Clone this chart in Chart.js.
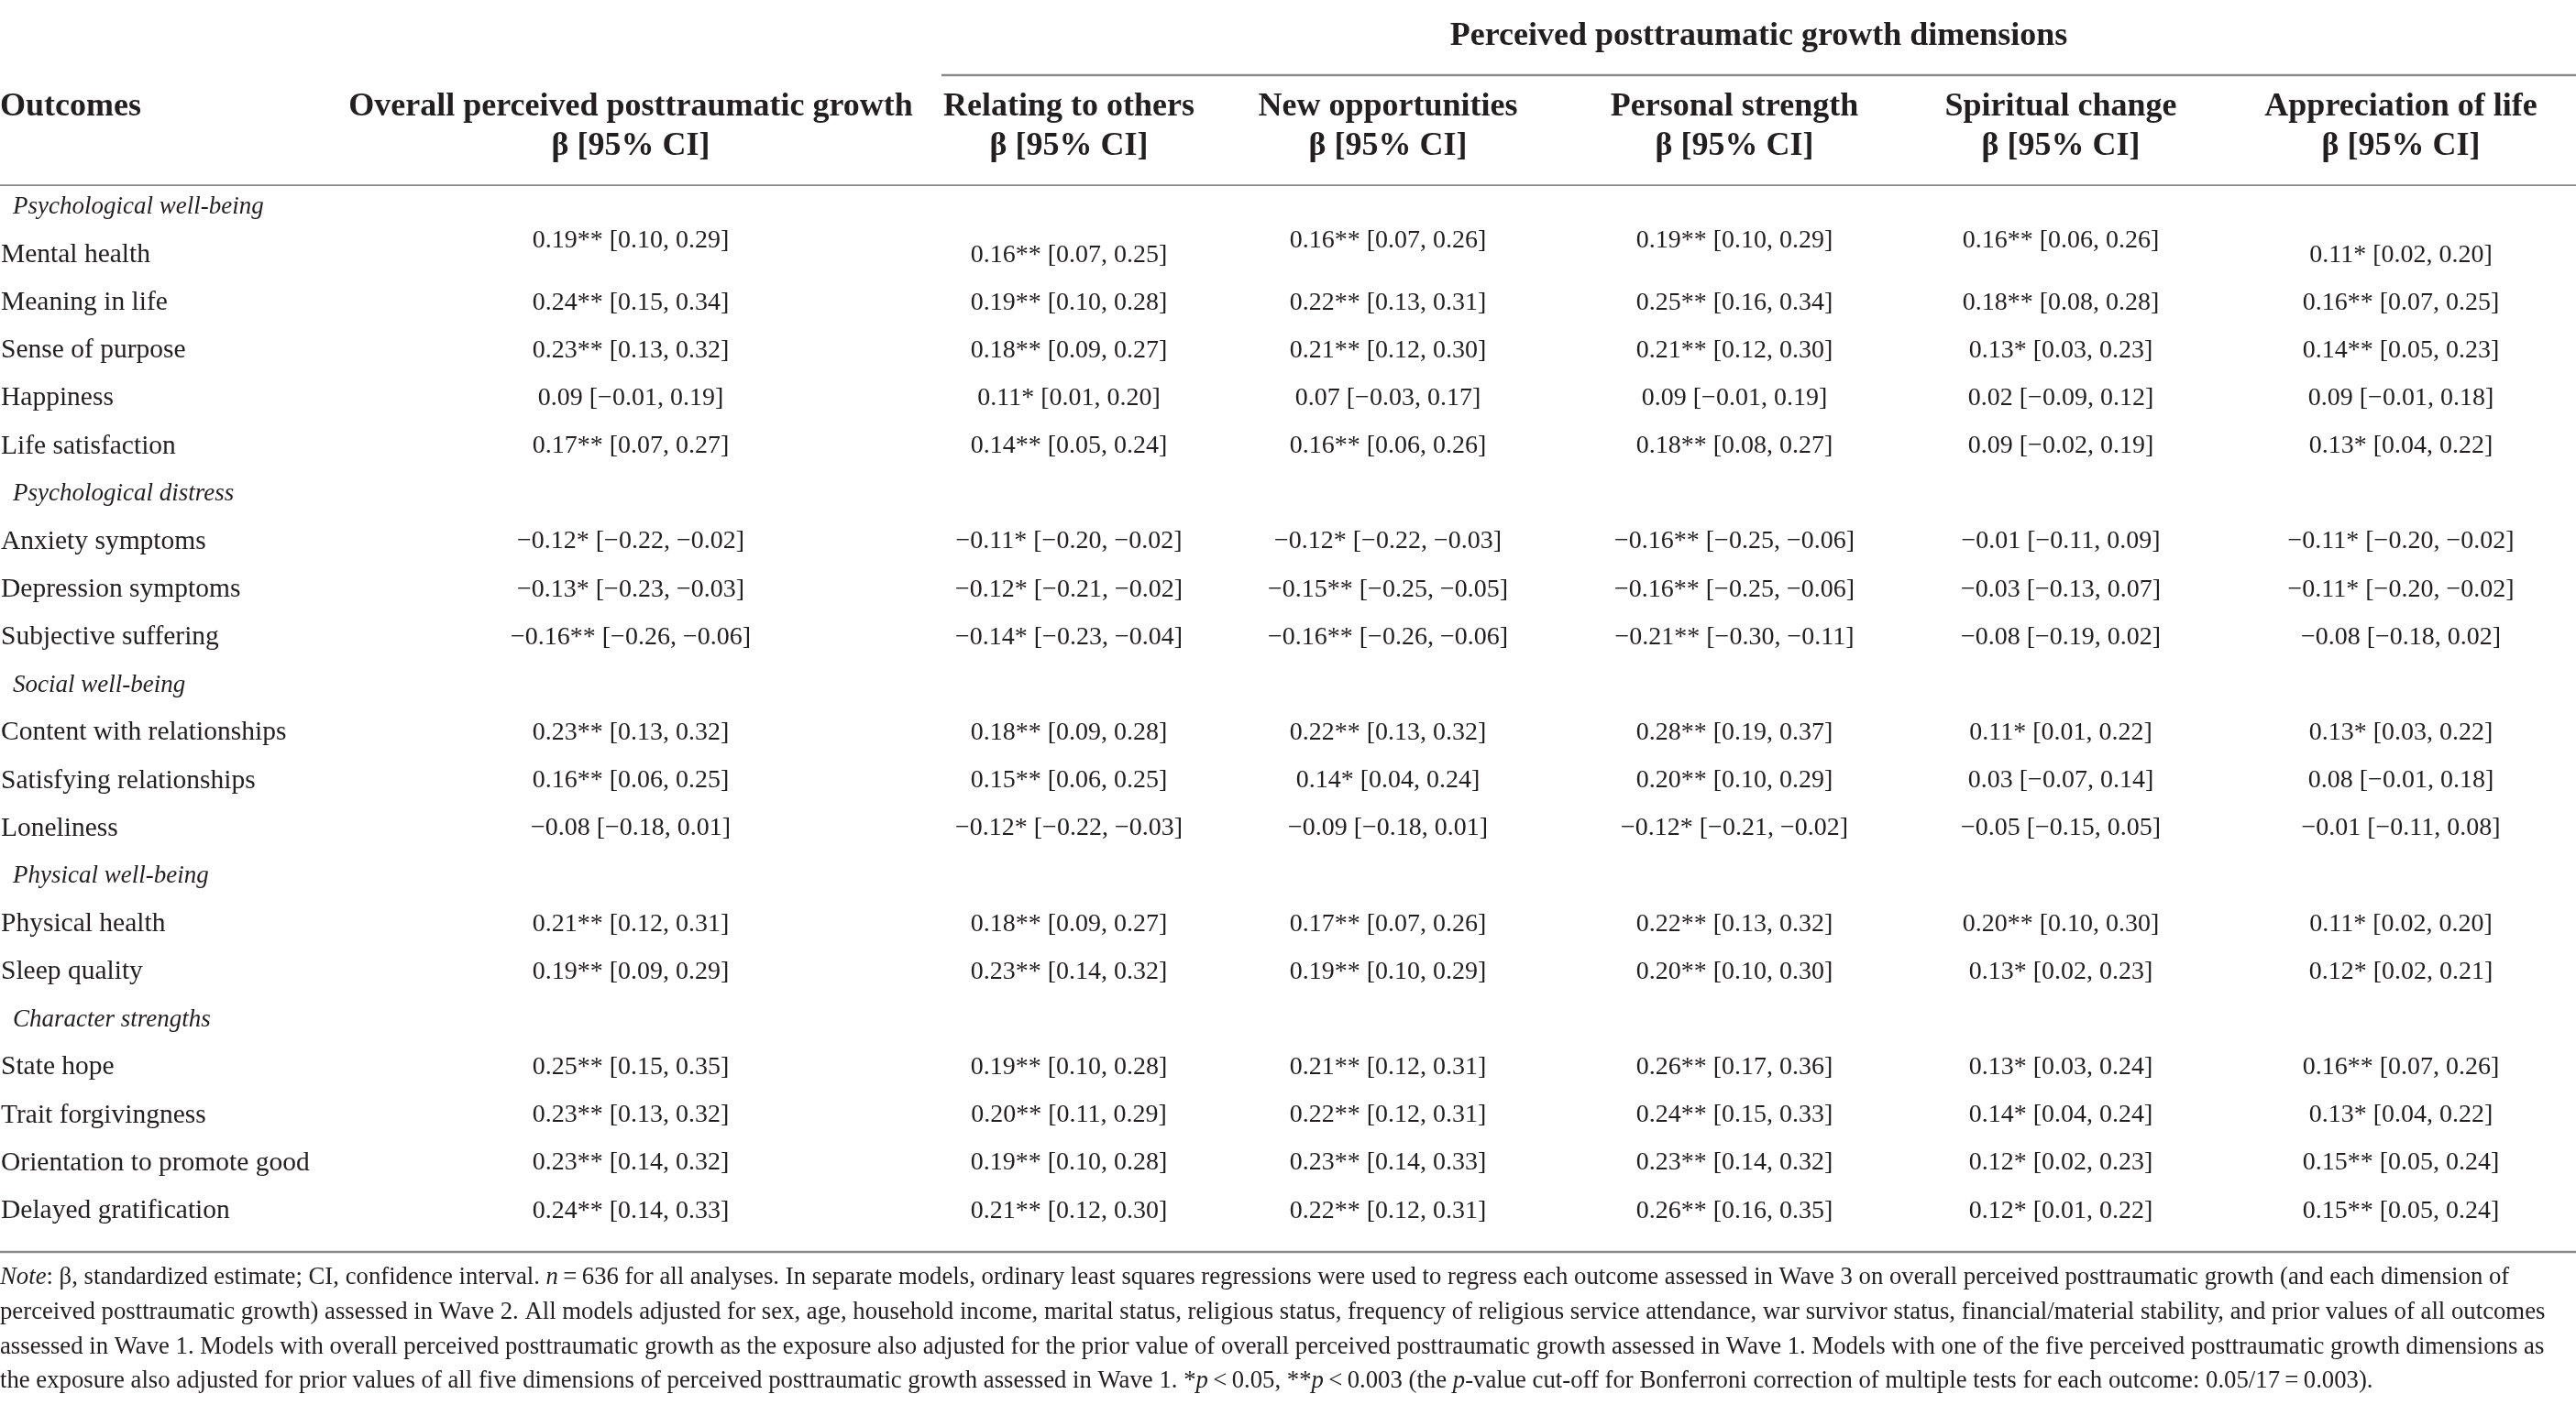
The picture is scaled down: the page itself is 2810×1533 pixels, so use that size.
<!DOCTYPE html>
<html><head><meta charset="utf-8">
<script src="https://cdn.jsdelivr.net/npm/chart.js@4/dist/chart.umd.min.js"></script>
<style>html,body{margin:0;padding:0;background:#fff;overflow:hidden}#wrap{width:2810px;height:1533px}</style>
</head><body><div id="wrap"><canvas id="c" width="2810" height="1533"></canvas></div>
<script>
// ---------- DATA ----------
const stubTitle = "Outcomes";
const groupTitle = "Perceived posttraumatic growth dimensions";
const columnTitles = ["Overall perceived posttraumatic growth","Relating to others","New opportunities","Personal strength","Spiritual change","Appreciation of life"];
const columnSubtitle = "β [95% CI]";
const sectionRows = ["Psychological well-being","Psychological distress","Social well-being","Physical well-being","Character strengths"];
const rowLabels = ["Psychological well-being","Mental health","Meaning in life","Sense of purpose","Happiness","Life satisfaction",
  "Psychological distress","Anxiety symptoms","Depression symptoms","Subjective suffering",
  "Social well-being","Content with relationships","Satisfying relationships","Loneliness",
  "Physical well-being","Physical health","Sleep quality",
  "Character strengths","State hope","Trait forgivingness","Orientation to promote good","Delayed gratification"];
const overall = ["","0.19** [0.10, 0.29]","0.24** [0.15, 0.34]","0.23** [0.13, 0.32]","0.09 [−0.01, 0.19]","0.17** [0.07, 0.27]",
  "","−0.12* [−0.22, −0.02]","−0.13* [−0.23, −0.03]","−0.16** [−0.26, −0.06]",
  "","0.23** [0.13, 0.32]","0.16** [0.06, 0.25]","−0.08 [−0.18, 0.01]",
  "","0.21** [0.12, 0.31]","0.19** [0.09, 0.29]",
  "","0.25** [0.15, 0.35]","0.23** [0.13, 0.32]","0.23** [0.14, 0.32]","0.24** [0.14, 0.33]"];
const relating = ["","0.16** [0.07, 0.25]","0.19** [0.10, 0.28]","0.18** [0.09, 0.27]","0.11* [0.01, 0.20]","0.14** [0.05, 0.24]",
  "","−0.11* [−0.20, −0.02]","−0.12* [−0.21, −0.02]","−0.14* [−0.23, −0.04]",
  "","0.18** [0.09, 0.28]","0.15** [0.06, 0.25]","−0.12* [−0.22, −0.03]",
  "","0.18** [0.09, 0.27]","0.23** [0.14, 0.32]",
  "","0.19** [0.10, 0.28]","0.20** [0.11, 0.29]","0.19** [0.10, 0.28]","0.21** [0.12, 0.30]"];
const newOpportunities = ["","0.16** [0.07, 0.26]","0.22** [0.13, 0.31]","0.21** [0.12, 0.30]","0.07 [−0.03, 0.17]","0.16** [0.06, 0.26]",
  "","−0.12* [−0.22, −0.03]","−0.15** [−0.25, −0.05]","−0.16** [−0.26, −0.06]",
  "","0.22** [0.13, 0.32]","0.14* [0.04, 0.24]","−0.09 [−0.18, 0.01]",
  "","0.17** [0.07, 0.26]","0.19** [0.10, 0.29]",
  "","0.21** [0.12, 0.31]","0.22** [0.12, 0.31]","0.23** [0.14, 0.33]","0.22** [0.12, 0.31]"];
const personalStrength = ["","0.19** [0.10, 0.29]","0.25** [0.16, 0.34]","0.21** [0.12, 0.30]","0.09 [−0.01, 0.19]","0.18** [0.08, 0.27]",
  "","−0.16** [−0.25, −0.06]","−0.16** [−0.25, −0.06]","−0.21** [−0.30, −0.11]",
  "","0.28** [0.19, 0.37]","0.20** [0.10, 0.29]","−0.12* [−0.21, −0.02]",
  "","0.22** [0.13, 0.32]","0.20** [0.10, 0.30]",
  "","0.26** [0.17, 0.36]","0.24** [0.15, 0.33]","0.23** [0.14, 0.32]","0.26** [0.16, 0.35]"];
const spiritualChange = ["","0.16** [0.06, 0.26]","0.18** [0.08, 0.28]","0.13* [0.03, 0.23]","0.02 [−0.09, 0.12]","0.09 [−0.02, 0.19]",
  "","−0.01 [−0.11, 0.09]","−0.03 [−0.13, 0.07]","−0.08 [−0.19, 0.02]",
  "","0.11* [0.01, 0.22]","0.03 [−0.07, 0.14]","−0.05 [−0.15, 0.05]",
  "","0.20** [0.10, 0.30]","0.13* [0.02, 0.23]",
  "","0.13* [0.03, 0.24]","0.14* [0.04, 0.24]","0.12* [0.02, 0.23]","0.12* [0.01, 0.22]"];
const appreciationOfLife = ["","0.11* [0.02, 0.20]","0.16** [0.07, 0.25]","0.14** [0.05, 0.23]","0.09 [−0.01, 0.18]","0.13* [0.04, 0.22]",
  "","−0.11* [−0.20, −0.02]","−0.11* [−0.20, −0.02]","−0.08 [−0.18, 0.02]",
  "","0.13* [0.03, 0.22]","0.08 [−0.01, 0.18]","−0.01 [−0.11, 0.08]",
  "","0.11* [0.02, 0.20]","0.12* [0.02, 0.21]",
  "","0.16** [0.07, 0.26]","0.13* [0.04, 0.22]","0.15** [0.05, 0.24]","0.15** [0.05, 0.24]"];
const noteLines = [
  [["Note",1],[": β, standardized estimate; CI, confidence interval. ",0],["n",1],["\u2009=\u2009636 for all analyses. In separate models, ordinary least squares regressions were used to regress each outcome assessed in Wave 3 on overall perceived posttraumatic growth (and each dimension of",0]],
  [["perceived posttraumatic growth) assessed in Wave 2. All models adjusted for sex, age, household income, marital status, religious status, frequency of religious service attendance, war survivor status, financial/material stability, and prior values of all outcomes",0]],
  [["assessed in Wave 1. Models with overall perceived posttraumatic growth as the exposure also adjusted for the prior value of overall perceived posttraumatic growth assessed in Wave 1. Models with one of the five perceived posttraumatic growth dimensions as",0]],
  [["the exposure also adjusted for prior values of all five dimensions of perceived posttraumatic growth assessed in Wave 1. *",0],["p",1],["\u2009<\u20090.05, **",0],["p",1],["\u2009<\u20090.003 (the ",0],["p",1],["-value cut-off for Bonferroni correction of multiple tests for each outcome: 0.05/17\u2009=\u20090.003).",0]]
];
const valueColumns = [overall, relating, newOpportunities, personalStrength, spiritualChange, appreciationOfLife];

// ---------- LAYOUT / STYLE (y in row units) ----------
const L = {
  xMax: 2810, yMin: -4.334, yMax: 25.062,
  colX: [688, 1166, 1514, 1892, 2248, 2619], labelX: 1, sectionX: 14,
  groupTitleY: -3.567, groupRuleY: -2.761, groupRuleX0: 1027,
  head1Y: -2.09, head2Y: -1.266, headRuleY: -0.46, bottomRuleY: 21.86,
  noteY: [22.397, 23.126, 23.845, 24.564], noteWidth: 2776,
  liftRow: 1, liftCols: [0, 2, 3, 4], liftBy: 0.307
};
const FONT = '"Liberation Serif", "Times New Roman", serif';
const INK = '#231f20', RULE = '#8a8a8a';
const SIZE = { value: 28, label: 29.5, section: 27, head: 36 };

const datasets = [];
datasets.push({
  label: 'rows', align: 'left', pointRadius: 0,
  data: rowLabels.map((r, i) => {
    const sec = sectionRows.includes(r);
    return { x: sec ? L.sectionX : L.labelX, y: i, t: r, font: sec ? 'italic ' + SIZE.section + 'px ' + FONT : SIZE.label + 'px ' + FONT };
  })
});
valueColumns.forEach((col, j) => {
  const pts = [];
  col.forEach((v, i) => {
    if (!v) return;
    const lift = (i === L.liftRow && L.liftCols.includes(j)) ? L.liftBy : 0;
    pts.push({ x: L.colX[j], y: i - lift, t: v, font: SIZE.value + 'px ' + FONT });
  });
  datasets.push({ label: columnTitles[j], align: 'center', pointRadius: 0, data: pts });
});

const tablePlugin = {
  id: 'tableText',
  beforeDraw(chart) {
    const c = chart.ctx; c.save(); c.fillStyle = '#fff'; c.fillRect(0, 0, chart.width, chart.height); c.restore();
  },
  afterDatasetsDraw(chart) {
    const c = chart.ctx, xs = chart.scales.x, ys = chart.scales.y;
    c.save();
    c.fillStyle = INK; c.textBaseline = 'middle';
    chart.data.datasets.forEach((ds, k) => {
      const meta = chart.getDatasetMeta(k);
      meta.data.forEach((el, i) => {
        const d = ds.data[i];
        c.font = d.font;
        c.textAlign = ds.align;
        c.fillText(d.t, el.x, el.y);
      });
    });
    c.font = 'bold ' + SIZE.head + 'px ' + FONT;
    c.textAlign = 'center';
    const xMid = (xs.getPixelForValue(L.groupRuleX0) + xs.getPixelForValue(L.xMax)) / 2;
    c.fillText(groupTitle, xMid, ys.getPixelForValue(L.groupTitleY));
    c.textAlign = 'left';
    c.fillText(stubTitle, xs.getPixelForValue(0), ys.getPixelForValue(L.head1Y));
    c.textAlign = 'center';
    columnTitles.forEach((t, j) => {
      c.fillText(t, xs.getPixelForValue(L.colX[j]), ys.getPixelForValue(L.head1Y));
      c.fillText(columnSubtitle, xs.getPixelForValue(L.colX[j]), ys.getPixelForValue(L.head2Y));
    });
    c.strokeStyle = RULE;
    const rule = (x0, y, w) => { c.lineWidth = w; c.beginPath(); c.moveTo(xs.getPixelForValue(x0), ys.getPixelForValue(y)); c.lineTo(xs.getPixelForValue(L.xMax), ys.getPixelForValue(y)); c.stroke(); };
    rule(L.groupRuleX0, L.groupRuleY, 2.5);
    rule(0, L.headRuleY, 1.8);
    rule(0, L.bottomRuleY, 2.5);
    const seg = (s, size) => (s[1] ? 'italic ' : '') + size + 'px ' + FONT;
    const measure = (line, size) => line.reduce((w, s) => { c.font = seg(s, size); return w + c.measureText(s[0]).width; }, 0);
    const noteSize = 26 * L.noteWidth / measure(noteLines[2], 26);
    c.textAlign = 'left';
    noteLines.forEach((line, li) => {
      let x = xs.getPixelForValue(0);
      const y = ys.getPixelForValue(L.noteY[li]);
      line.forEach(s => { c.font = seg(s, noteSize); c.fillText(s[0], x, y); x += c.measureText(s[0]).width; });
    });
    c.restore();
  }
};

new Chart(document.getElementById('c'), {
  type: 'scatter',
  data: { datasets },
  options: {
    responsive: false, animation: false, devicePixelRatio: 1,
    layout: { padding: 0 },
    plugins: { legend: { display: false }, tooltip: { enabled: false } },
    scales: {
      x: { type: 'linear', display: false, min: 0, max: L.xMax },
      y: { type: 'linear', display: false, reverse: true, min: L.yMin, max: L.yMax }
    }
  },
  plugins: [tablePlugin]
});
</script></body></html>
